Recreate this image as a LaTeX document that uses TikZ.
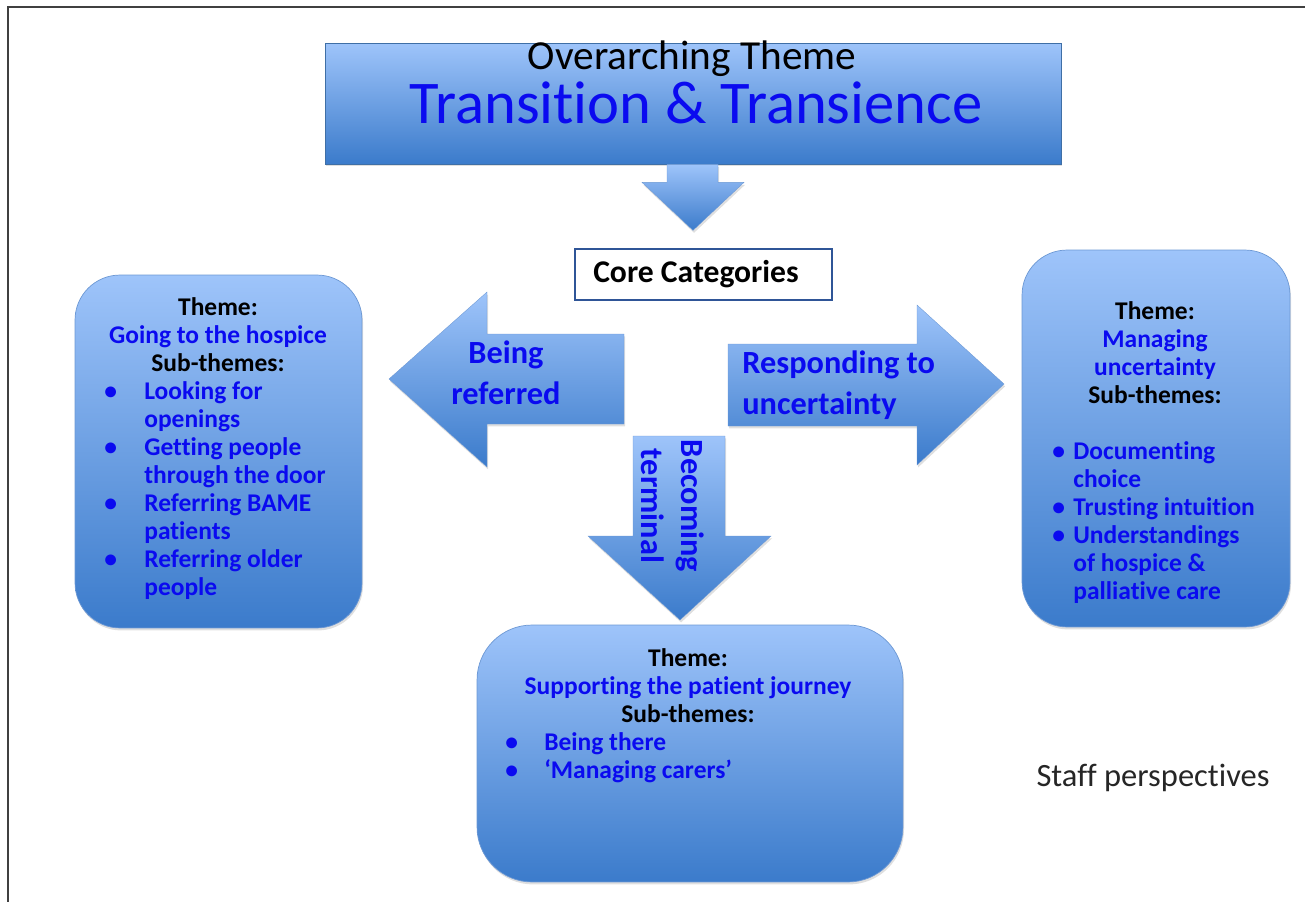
\documentclass[tikz,border=0pt]{standalone}
\usepackage{fontspec}
\setmainfont{Carlito}[Ligatures=NoCommon]
\usetikzlibrary{shadows, calc}

\definecolor{boxtop}{HTML}{9EC4FA}
\definecolor{boxbot}{HTML}{3B7BCB}
\definecolor{boxedge}{HTML}{6C98D4}
\definecolor{titleedge}{HTML}{3F6FA6}
\definecolor{coreedge}{HTML}{2F5597}
\definecolor{themeblue}{HTML}{0A0AF0}
\definecolor{framegray}{HTML}{404040}

\newcommand{\bl}[1]{\makebox[#1][l]{\textbullet}}

\begin{document}
\begin{tikzpicture}[
    x=0.02cm, y=-0.02cm,
    softshadow/.style={drop shadow={opacity=0.25, shadow xshift=0.6pt, shadow yshift=-1.4pt}},
    titlebox/.style={rectangle, top color=boxtop, bottom color=boxbot, draw=titleedge, thin, inner sep=0, softshadow},
    themebox/.style={rectangle, rounded corners=0.9cm, top color=boxtop, bottom color=boxbot, draw=boxedge, thin, inner sep=0, softshadow},
    corebox/.style={rectangle, fill=white, draw=coreedge, line width=1.2pt, inner sep=0, font=\fontsize{18}{21}\selectfont\bfseries},
    blockarrow/.style={top color=boxtop, bottom color=boxbot, draw=boxedge, very thin, softshadow},
    arrowlabel/.style={inner sep=0, text=themeblue, font=\fontsize{18.4}{23}\selectfont\bfseries},
    heading/.style={inner sep=0, align=center, font=\fontsize{14.5}{15.9}\selectfont\bfseries},
    sublist/.style={inner sep=0, align=left, text=themeblue, font=\fontsize{14.5}{15.9}\selectfont\bfseries}
]

\useasboundingbox (0,0) rectangle (1305,902);

% frame of the slide
\draw[framegray, line width=1.3pt] (8,902) -- (8,7) -- (1305,7);

% ==================== Overarching theme ====================
\node[titlebox, minimum width=14.72cm, minimum height=2.42cm] (title) at (693,103.5) {};
\node[inner sep=0, anchor=base, font=\fontsize{23.5}{28}\selectfont] (overarching) at (692,70) {Overarching Theme};
\node[inner sep=0, anchor=base, text=themeblue, font=\fontsize{34.5}{40}\selectfont] (transition) at (696,124) {Transition \& Transience};

\path[blockarrow] (title.south) ++(-26,0) -- ++(51,0) -- ++(0,18) -- ++(26,0) -- ++(-51,48) -- ++(-51,-48) -- ++(25,0) -- cycle;

\node[corebox, minimum width=5.14cm, minimum height=1.02cm] (core) at (703.5,274.5) {Core Categories\hspace*{0.3cm}};

% ==================== Core category arrows ====================
\path[blockarrow] (389,379) -- (487,292) -- (487,334) -- (624,334) -- (624,424) -- (487,424) -- (487,467) -- cycle;
\node[arrowlabel, align=center, anchor=base] (referred) at (506,404) {Being\\referred};

\path[blockarrow] (728,344) -- (917,344) -- (917,305) -- (1004,384) -- (917,465) -- (917,426) -- (728,426) -- cycle;
\node[arrowlabel, align=left, anchor=base west] (responding) at (742,414) {Responding to\\uncertainty};

\path[blockarrow] (633,436) -- (725,436) -- (725,536) -- (771,536) -- (680,620) -- (588,536) -- (633,536) -- cycle;
\node[arrowlabel, align=center, rotate=-90] (terminal) at (673,506) {Becoming\\terminal};

% ==================== Going to the hospice ====================
\node[themebox, minimum width=5.74cm, minimum height=7.06cm] (hospice) at (218.5,451.5) {};
\node[heading, anchor=base] (hospice_head) at (218,371) {Theme:\\\textcolor{themeblue}{Going to the hospice}\\Sub-themes:};
\node[sublist, anchor=base west] (hospice_list) at (104,595) {%
  \bl{0.8cm}Looking for\\ \hspace*{0.8cm}openings\\
  \bl{0.8cm}Getting people\\ \hspace*{0.8cm}through the door\\
  \bl{0.8cm}Referring BAME\\ \hspace*{0.8cm}patients\\
  \bl{0.8cm}Referring older\\ \hspace*{0.8cm}people};

% ==================== Managing uncertainty ====================
\node[themebox, minimum width=5.36cm, minimum height=7.54cm] (uncertainty) at (1156,438.5) {};
\node[heading, anchor=base] (uncertainty_head) at (1155,403) {Theme:\\\textcolor{themeblue}{Managing}\\\textcolor{themeblue}{uncertainty}\\Sub-themes:};
\node[sublist, anchor=base west] (uncertainty_list) at (1052,599) {%
  \bl{0.42cm}Documenting\\ \hspace*{0.42cm}choice\\
  \bl{0.42cm}Trusting intuition\\
  \bl{0.42cm}Understandings\\ \hspace*{0.42cm}of hospice \&\\ \hspace*{0.42cm}palliative care};

% ==================== Supporting the patient journey ====================
\node[themebox, rounded corners=1.1cm, minimum width=8.52cm, minimum height=5.14cm] (journey) at (690,753.5) {};
\node[heading, anchor=base] (journey_head) at (688,722) {Theme:\\\textcolor{themeblue}{Supporting the patient journey}\\Sub-themes:};
\node[sublist, anchor=base west] (journey_list) at (505,778) {%
  \bl{0.78cm}Being there\\
  \bl{0.78cm}‘Managing carers’};

\node[inner sep=0, anchor=base, text=black!85, font=\fontsize{18.5}{22}\selectfont] (staff) at (1153,786) {Staff perspectives};

\end{tikzpicture}
\end{document}
